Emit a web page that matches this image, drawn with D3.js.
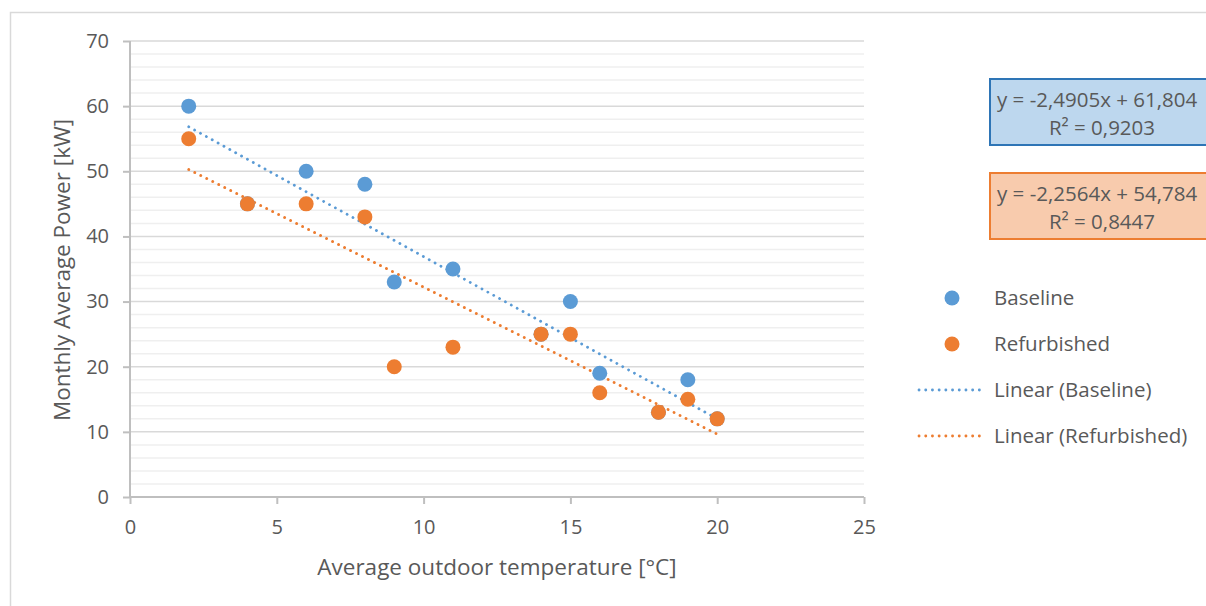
<!DOCTYPE html>
<html>
<head>
<meta charset="utf-8">
<script src="https://cdn.jsdelivr.net/npm/d3@7"></script>
<style>
  body { margin: 0; background: #fff; }
  svg { display: block; font-family: "Open Sans", Lato, sans-serif; }
</style>
</head>
<body>
<svg id="chart" width="1206" height="606"></svg>
<script>
// monthly data (temperature in °C, power in kW)
const temps = [2, 4, 6, 8, 9, 11, 14, 15, 16, 18, 19, 20];
const baseline = [60, 45, 50, 48, 33, 35, 25, 30, 19, 13, 18, 12];
const refurbished = [55, 45, 45, 43, 20, 23, 25, 25, 16, 13, 15, 12];
const seriesNames = ["Baseline", "Refurbished"];
const seriesColors = ["#5b9bd5", "#ed7d31"];
const eqLabels = [
  ["y = -2,4905x + 61,804", "R² = 0,9203"],
  ["y = -2,2564x + 54,784", "R² = 0,8447"]
];
const xTicks = [0, 5, 10, 15, 20, 25];
const yTicks = [0, 10, 20, 30, 40, 50, 60, 70];

const svg = d3.select("#chart");
const textColor = "#595959";

// chart frame
svg.append("rect")
  .attr("x", 10.5).attr("y", 12.5)
  .attr("width", 1300).attr("height", 700)
  .attr("fill", "#fff").attr("stroke", "#d9d9d9").attr("stroke-width", 1.5);

const x = d3.scaleLinear().domain([0, 25]).range([130, 864]);
const y = d3.scaleLinear().domain([0, 70]).range([497, 41]);

// minor gridlines
svg.append("g")
  .selectAll("line")
  .data(d3.range(2, 70, 2).filter(v => v % 10 !== 0))
  .join("line")
  .attr("x1", x(0)).attr("x2", x(25))
  .attr("y1", d => y(d)).attr("y2", d => y(d))
  .attr("stroke", "#efefef").attr("stroke-width", 1.5);

// major gridlines
svg.append("g")
  .selectAll("line")
  .data(yTicks.slice(1))
  .join("line")
  .attr("x1", x(0)).attr("x2", x(25))
  .attr("y1", d => y(d)).attr("y2", d => y(d))
  .attr("stroke", "#d9d9d9").attr("stroke-width", 1.5);

// axes
const yAxis = svg.append("g")
  .attr("transform", `translate(${x(0)},0)`)
  .call(d3.axisLeft(y).tickValues(yTicks).tickSize(7).tickPadding(14));
const xAxis = svg.append("g")
  .attr("transform", `translate(0,${y(0)})`)
  .call(d3.axisBottom(x).tickValues(xTicks).tickSize(7).tickPadding(16));

[yAxis, xAxis].forEach(a => {
  a.select(".domain").attr("stroke", "#bfbfbf").attr("stroke-width", 2);
  a.selectAll(".tick line").attr("stroke", "#bfbfbf").attr("stroke-width", 2);
  a.selectAll(".tick text")
    .attr("fill", textColor)
    .style("font-size", "20px")
    .style("font-family", "'Open Sans', sans-serif");
});
// remove the outer ticks of the domain path
yAxis.select(".domain").attr("d", `M0,${y(70)}V${y(0)}`);
xAxis.select(".domain").attr("d", `M${x(0)},0H${x(25)}`);

// axis titles
svg.append("text")
  .attr("x", 497).attr("y", 575)
  .attr("text-anchor", "middle")
  .attr("fill", textColor)
  .style("font-size", "22.5px")
  .text("Average outdoor temperature [°C]");

svg.append("text")
  .attr("transform", "translate(70,270) rotate(-90)")
  .attr("text-anchor", "middle")
  .attr("fill", textColor)
  .style("font-size", "22.5px")
  .text("Monthly Average Power [kW]");

// least squares trend line from the data
function fit(xs, ys) {
  const mx = d3.mean(xs), my = d3.mean(ys);
  const sxy = d3.sum(xs, (v, i) => (v - mx) * (ys[i] - my));
  const sxx = d3.sum(xs, v => (v - mx) ** 2);
  const m = sxy / sxx;
  return { m, b: my - m * mx };
}

const allSeries = [baseline, refurbished];

// trend lines
allSeries.forEach((vals, i) => {
  const f = fit(temps, vals);
  const ext = d3.extent(temps);
  svg.append("line")
    .attr("x1", x(ext[0])).attr("y1", y(f.m * ext[0] + f.b))
    .attr("x2", x(ext[1])).attr("y2", y(f.m * ext[1] + f.b))
    .attr("stroke", seriesColors[i])
    .attr("stroke-width", 2.8)
    .attr("stroke-linecap", "round")
    .attr("stroke-dasharray", "0.1,6.6");
});

// markers
allSeries.forEach((vals, i) => {
  svg.append("g")
    .selectAll("circle")
    .data(vals)
    .join("circle")
    .attr("cx", (d, j) => x(temps[j]))
    .attr("cy", d => y(d))
    .attr("r", 7.5)
    .attr("fill", seriesColors[i]);
});

// equation labels
const boxFill = ["#bdd7ee", "#f8cbad"];
const boxStroke = ["#2e75b6", "#ed7d31"];
eqLabels.forEach((lines, i) => {
  const top = 79 + i * 94;
  svg.append("rect")
    .attr("x", 990).attr("y", top)
    .attr("width", 260).attr("height", 66)
    .attr("fill", boxFill[i])
    .attr("stroke", boxStroke[i]).attr("stroke-width", 2);
  svg.append("text")
    .attr("x", 997).attr("y", top + 28)
    .attr("fill", textColor)
    .style("font-size", "20.5px")
    .text(lines[0]);
  svg.append("text")
    .attr("x", 1102).attr("y", top + 56)
    .attr("text-anchor", "middle")
    .attr("fill", textColor)
    .style("font-size", "20.5px")
    .text(lines[1]);
});

// legend
const legendItems = [
  { label: "Baseline", color: seriesColors[0], type: "dot" },
  { label: "Refurbished", color: seriesColors[1], type: "dot" },
  { label: "Linear (Baseline)", color: seriesColors[0], type: "line" },
  { label: "Linear (Refurbished)", color: seriesColors[1], type: "line" }
];
const legend = svg.append("g");
legendItems.forEach((it, i) => {
  const ly = 298 + i * 46;
  if (it.type === "dot") {
    legend.append("circle")
      .attr("cx", 952).attr("cy", ly).attr("r", 7.5)
      .attr("fill", it.color);
  } else {
    legend.append("line")
      .attr("x1", 919).attr("x2", 982)
      .attr("y1", ly).attr("y2", ly)
      .attr("stroke", it.color)
      .attr("stroke-width", 2.8)
      .attr("stroke-linecap", "round")
      .attr("stroke-dasharray", "0.1,6.6");
  }
  legend.append("text")
    .attr("x", 994).attr("y", ly + 7)
    .attr("fill", textColor)
    .style("font-size", "20.5px")
    .text(it.label);
});
</script>
</body>
</html>
